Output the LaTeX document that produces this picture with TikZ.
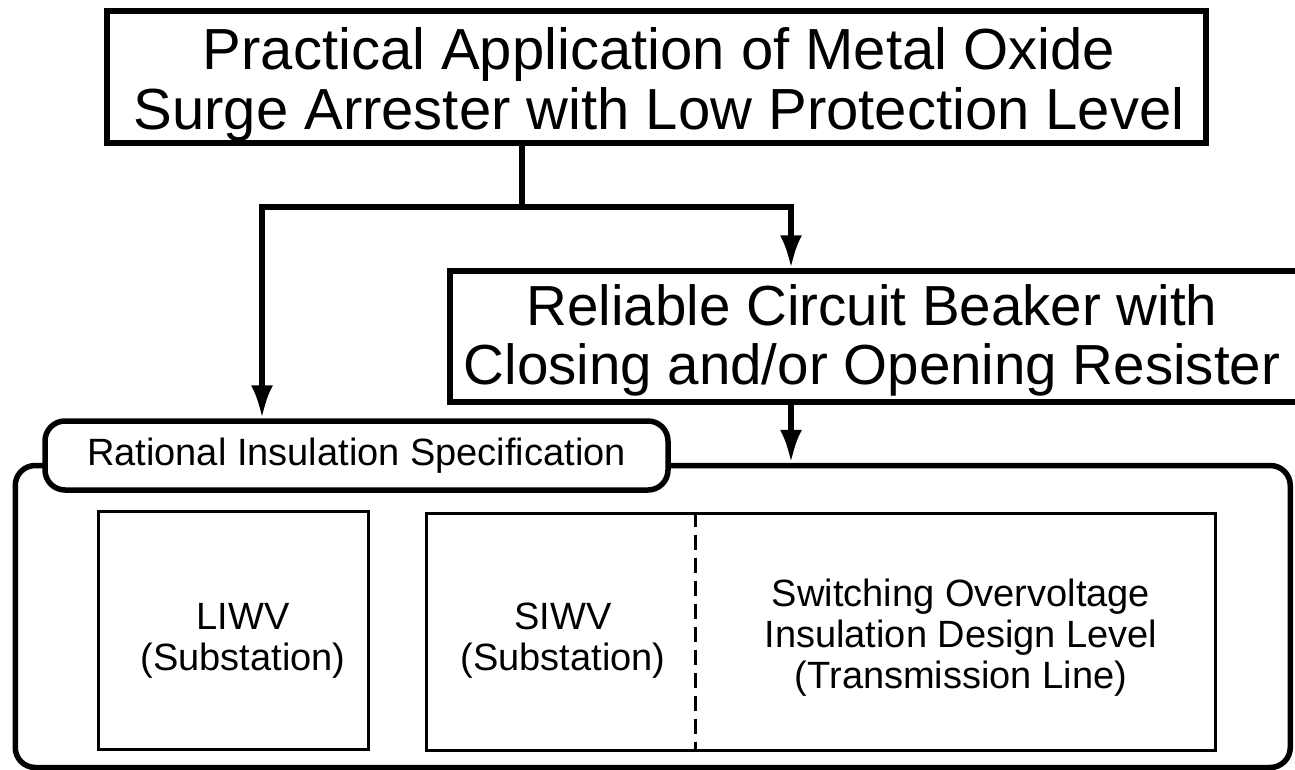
\documentclass[tikz,border=0pt]{standalone}
\usepackage{fontspec}
\setmainfont{Liberation Sans}
\usetikzlibrary{arrows.meta,positioning}

\begin{document}
\begin{tikzpicture}[x=1pt,y=-1pt,
  frame/.style={draw,line width=5.5pt,inner sep=0pt},
  cell/.style={draw,line width=3pt,inner sep=0pt},
  bigtext/.style={inner sep=0pt,align=center,font=\fontsize{58}{60}\selectfont},
  smalltext/.style={inner sep=0pt,align=center,font=\fontsize{38}{41}\selectfont},
  conn/.style={line width=5.5pt,-{Latex[length=33pt,width=22pt]}}]
  \useasboundingbox (0,0) rectangle (1295,770);
  \clip (0,0) rectangle (1295,770);

  % upper boxes
  \node[frame,minimum width=1099pt,minimum height=132pt] (top) at (656.5,77) {};
  \node[bigtext] (toptext) at (659,85) {Practical Application of Metal Oxide\\Surge Arrester with Low Protection Level};
  \node[frame,minimum width=861pt,minimum height=131pt] (breaker) at (880.5,336.5) {};
  \node[bigtext,font=\fontsize{56.5}{59}\selectfont] (breakertext) at (872,340) {Reliable Circuit Beaker with\\Closing and/or Opening Resister};

  % lower container
  \node[frame,rounded corners=20pt,minimum width=1275pt,minimum height=302pt] (spec) at (652.75,616.5) {};
  \node[frame,rounded corners=20pt,fill=white,minimum width=623pt,minimum height=69pt,
    font=\fontsize{38}{41}\selectfont] (title) at (356.5,455.5) {Rational Insulation Specification};

  \node[cell,minimum width=270pt,minimum height=238pt] (liwv) at (233.5,630.5) {};
  \node[smalltext] (liwvtext) at (243,641) {LIWV\\(Substation)};
  \node[cell,minimum width=789pt,minimum height=237pt] (siwv) at (820.5,631.5) {};
  \draw[line width=3pt,dash pattern=on 15pt off 8pt] (695,0 |- siwv.north) -- (695,0 |- siwv.south);
  \node[smalltext] (siwvtext) at (563,641) {SIWV\\(Substation)};
  \node[smalltext] (sotext) at (961,637.5) {Switching Overvoltage\\Insulation Design Level\\(Transmission Line)};

  % connectors
  \coordinate (split) at (522,207);
  \coordinate (jl) at (262,207);
  \coordinate (jr) at (791,207);
  \draw[conn] (top.south -| split) -- (split) -| (jl |- title.north);
  \draw[conn] (split) -| (jr |- breaker.north);
  \draw[conn] (jr |- breaker.south) -- (jr |- spec.north);
\end{tikzpicture}
\end{document}
